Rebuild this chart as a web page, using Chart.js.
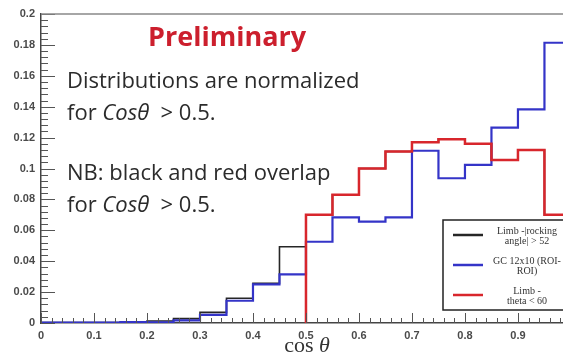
<!DOCTYPE html>
<html>
<head>
<meta charset="utf-8">
<script src="https://cdn.jsdelivr.net/npm/chart.js@4.4.1/dist/chart.umd.min.js"></script>
<style>
  html, body { margin: 0; padding: 0; background: #ffffff; }
  #wrap { width: 563px; height: 356px; }
</style>
</head>
<body>
<div id="wrap"><canvas id="c" width="563" height="356"></canvas></div>
<script>
// cos(theta) histogram bin edges (20 bins of width 0.05)
const binEdges = [0, 0.05, 0.1, 0.15, 0.2, 0.25, 0.3, 0.35, 0.4, 0.45, 0.5,
                  0.55, 0.6, 0.65, 0.7, 0.75, 0.8, 0.85, 0.9, 0.95, 1.0];

// normalized bin contents per sample
const limbRockingVals = [0.0003, 0.0003, 0.0003, 0.0008, 0.0013, 0.0028, 0.0069, 0.016, 0.0257, 0.0494,
                         0.070, 0.083, 0.100, 0.111, 0.117, 0.119, 0.116, 0.1055, 0.112, 0.070];
const gcRoiVals       = [0.0002, 0.0002, 0.0002, 0.0006, 0.0005, 0.0017, 0.0052, 0.0144, 0.025, 0.0315,
                         0.0526, 0.0684, 0.0656, 0.0684, 0.1115, 0.0937, 0.1023, 0.1264, 0.1383, 0.1814];
const limbThetaVals   = [0, 0, 0, 0, 0, 0, 0, 0, 0, 0,
                         0.070, 0.083, 0.100, 0.111, 0.117, 0.119, 0.116, 0.1055, 0.112, 0.070];

const seriesNames = ['Limb -|rocking angle| > 52', 'GC 12x10 (ROI-ROI)', 'Limb - theta < 60'];
const legendLines = [['Limb -|rocking', 'angle| > 52'], ['GC 12x10 (ROI-', 'ROI)'], ['Limb -', 'theta < 60']];

const xTickValues = [0, 0.1, 0.2, 0.3, 0.4, 0.5, 0.6, 0.7, 0.8, 0.9];
const yTickValues = [0, 0.02, 0.04, 0.06, 0.08, 0.1, 0.12, 0.14, 0.16, 0.18, 0.2];

// Turn bin contents into step-outline points, starting where the histogram first becomes non-empty
function histPoints(vals) {
  const first = Math.max(0, vals.findIndex(v => v > 0));
  const pts = [{ x: binEdges[first], y: 0 }];
  for (let i = first; i < vals.length; i++) pts.push({ x: binEdges[i], y: vals[i] });
  pts.push({ x: binEdges[vals.length], y: vals[vals.length - 1] });
  return pts;
}

const fmt = v => String(+Number(v).toFixed(3));

// Inner ROOT-style tick marks plus the top frame line
const frameTicks = {
  id: 'frameTicks',
  afterDatasetsDraw(chart) {
    const { ctx, chartArea: a, scales: { x, y } } = chart;
    ctx.save();
    ctx.strokeStyle = '#555';
    ctx.lineWidth = 1;
    // x ticks: major every 0.1, minor every 0.02
    for (let k = 0; k <= 50; k++) {
      const v = k * 0.02;
      if (v > x.max + 1e-9) break;
      const px = Math.round(x.getPixelForValue(v)) + 0.5;
      const len = (k % 5 === 0) ? 10 : 5;
      ctx.beginPath(); ctx.moveTo(px, a.bottom); ctx.lineTo(px, a.bottom - len); ctx.stroke();
    }
    // y ticks: major every 0.02, minor every 0.004
    for (let k = 0; k <= 50; k++) {
      const v = k * 0.004;
      const py = Math.round(y.getPixelForValue(v)) + 0.5;
      const len = (k % 5 === 0) ? 14 : 7;
      ctx.beginPath(); ctx.moveTo(a.left, py); ctx.lineTo(a.left + len, py); ctx.stroke();
    }
    // top frame
    ctx.strokeStyle = '#888';
    ctx.lineWidth = 1.5;
    ctx.beginPath(); ctx.moveTo(a.left, a.top); ctx.lineTo(a.right, a.top); ctx.stroke();
    ctx.restore();
  }
};

// Slide annotations, axis title and the boxed legend
const notes = {
  id: 'notes',
  afterDraw(chart) {
    const { ctx } = chart;
    ctx.save();
    ctx.textBaseline = 'alphabetic';
    ctx.textAlign = 'left';

    ctx.fillStyle = '#cc1f2d';
    ctx.font = 'bold 27px "Open Sans"';
    ctx.fillText('Preliminary', 148, 46);

    const body = '22px "Open Sans"';
    const ital = 'italic 22px "Open Sans"';
    ctx.fillStyle = '#2b2b2b';
    const mixed = (x0, yb) => {
      let x = x0;
      ctx.font = body; ctx.fillText('for ', x, yb); x += ctx.measureText('for ').width;
      ctx.font = ital; ctx.fillText('Cos\u03B8', x, yb); x += ctx.measureText('Cos\u03B8').width;
      ctx.font = body; ctx.fillText('  > 0.5.', x, yb);
    };
    ctx.font = body;
    ctx.fillText('Distributions are normalized', 67, 88);
    mixed(67, 120);
    ctx.font = body;
    ctx.fillText('NB: black and red overlap', 67, 180);
    mixed(67, 212);

    // x-axis title: upright "cos", italic theta
    ctx.fillStyle = '#333';
    ctx.font = '22px "Liberation Serif"';
    const w1 = ctx.measureText('cos ').width;
    ctx.font = 'italic 22px "Liberation Serif"';
    const w2 = ctx.measureText('\u03B8').width;
    let tx = 307 - (w1 + w2) / 2;
    ctx.font = '22px "Liberation Serif"';
    ctx.fillText('cos ', tx, 352);
    ctx.font = 'italic 22px "Liberation Serif"';
    ctx.fillText('\u03B8', tx + w1, 352);

    // legend box
    const bx = 443, by = 220, bw = 140, bh = 90;
    ctx.fillStyle = '#ffffff';
    ctx.fillRect(bx, by, bw, bh);
    ctx.strokeStyle = '#222';
    ctx.lineWidth = 1.5;
    ctx.strokeRect(bx, by, bw, bh);
    chart.data.datasets.forEach((ds, i) => {
      const cy = by + 15 + i * 30;
      ctx.strokeStyle = ds.borderColor;
      ctx.lineWidth = 2.5;
      ctx.beginPath(); ctx.moveTo(bx + 10, cy); ctx.lineTo(bx + 40, cy); ctx.stroke();
      ctx.fillStyle = '#333';
      ctx.font = '10px "Liberation Serif"';
      ctx.textAlign = 'center';
      const lines = legendLines[i];
      ctx.fillText(lines[0], 527, cy - 1);
      ctx.fillText(lines[1], 527, cy + 9);
      ctx.textAlign = 'left';
    });
    ctx.restore();
  }
};

new Chart(document.getElementById('c'), {
  type: 'line',
  data: {
    datasets: [
      { label: seriesNames[0], data: histPoints(limbRockingVals), borderColor: '#262626', borderWidth: 1.6, order: 3 },
      { label: seriesNames[1], data: histPoints(gcRoiVals), borderColor: '#3434c8', borderWidth: 2.2, order: 2 },
      { label: seriesNames[2], data: histPoints(limbThetaVals), borderColor: '#d8262c', borderWidth: 2.5, order: 1 }
    ].map(d => Object.assign(d, { stepped: 'before', pointRadius: 0, fill: false, tension: 0 }))
  },
  options: {
    responsive: false,
    devicePixelRatio: 1,
    animation: false,
    layout: { padding: { top: 14, right: 0, left: 0, bottom: 0 } },
    plugins: { legend: { display: false }, tooltip: { enabled: false } },
    scales: {
      x: {
        type: 'linear',
        min: 0, max: 0.985,
        afterFit: s => { s.height = 33; },
        afterBuildTicks: s => { s.ticks = xTickValues.map(v => ({ value: v })); },
        grid: { display: false, drawTicks: false },
        border: { display: true, color: '#444', width: 1.5 },
        ticks: {
          padding: 6, color: '#4a4a4a', callback: fmt,
          font: { family: '"Liberation Sans"', size: 11, weight: 'bold' }
        }
      },
      y: {
        min: 0, max: 0.2,
        afterFit: s => { s.width = 41; },
        afterBuildTicks: s => { s.ticks = yTickValues.map(v => ({ value: v })); },
        grid: { display: false, drawTicks: false },
        border: { display: true, color: '#444', width: 1.5 },
        ticks: {
          padding: 6, color: '#4a4a4a', callback: fmt,
          font: { family: '"Liberation Sans"', size: 11, weight: 'bold' }
        }
      }
    }
  },
  plugins: [frameTicks, notes]
});
</script>
</body>
</html>
